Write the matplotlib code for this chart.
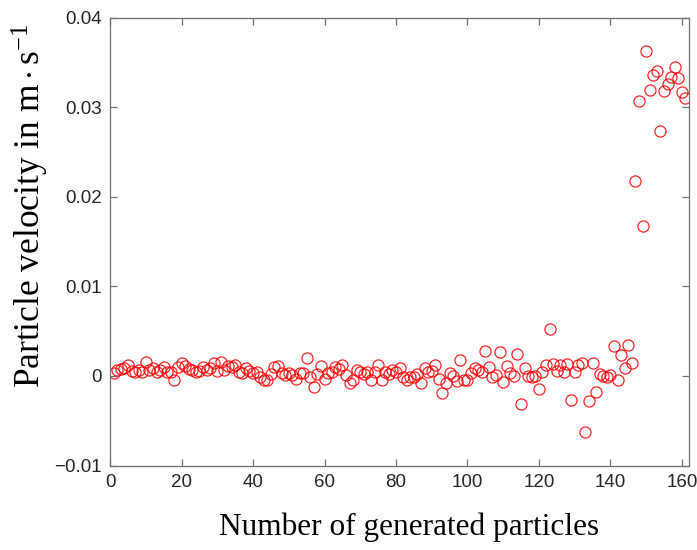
import matplotlib
matplotlib.use("Agg")
import matplotlib.pyplot as plt
import numpy as np

n_particles = np.arange(1, 162)
velocity = [
    0.0003, 0.0007, 0.0008, 0.0009, 0.0012, 0.0006, 0.0005, 0.0007, 0.0005, 0.0016,
    0.0007, 0.0009, 0.0004, 0.0007, 0.0010, 0.0004, 0.0004, -0.0005, 0.0010, 0.0015,
    0.0011, 0.0008, 0.0007, 0.0005, 0.0006, 0.0010, 0.0007, 0.0009, 0.0014, 0.0006,
    0.0016, 0.0007, 0.0011, 0.0010, 0.0012, 0.0005, 0.0003, 0.0009, 0.0006, 0.0003,
    0.0005, -0.0001, -0.0004, -0.0004, 0.0002, 0.0010, 0.0011, 0.0003, 0.0001, 0.0003,
    0.0001, -0.0003, 0.0003, 0.0003, 0.0020, -0.0001, -0.0012, 0.0002, 0.0011, -0.0003,
    0.0003, 0.0005, 0.0010, 0.0008, 0.0012, 0.0001, -0.0008, -0.0004, 0.0007, 0.0005,
    0.0002, 0.0005, -0.0004, 0.0004, 0.0012, -0.0004, 0.0005, 0.0002, 0.0007, 0.0004,
    0.0009, -0.0001, -0.0004, -0.0001, -0.0001, 0.0002, -0.0008, 0.0009, 0.0004, 0.0006,
    0.0012, -0.0003, -0.0019, -0.0008, 0.0003, 0.0000, -0.0006, 0.0018, -0.0004, -0.0004,
    0.0003, 0.0009, 0.0007, 0.0004, 0.0028, 0.0010, -0.0001, 0.0001, 0.0027, -0.0007,
    0.0011, 0.0003, 0.0000, 0.0025, -0.0031, 0.0009, 0.0000, -0.0001, 0.0000, -0.0015,
    0.0005, 0.0012, 0.0052, 0.0013, 0.0006, 0.0012, 0.0005, 0.0013, -0.0027, 0.0004,
    0.0012, 0.0014, -0.0063, -0.0028, 0.0014, -0.0018, 0.0002, 0.0000, -0.0001, 0.0001,
    0.0033, -0.0005, 0.0023, 0.0009, 0.0035, 0.0015, 0.0218, 0.0307, 0.0167, 0.0363,
    0.0319, 0.0336, 0.0340, 0.0273, 0.0318, 0.0326, 0.0334, 0.0345, 0.0333, 0.0317,
    0.0310,
]

x_ticks = [0, 20, 40, 60, 80, 100, 120, 140, 160]
y_ticks = [-0.01, 0, 0.01, 0.02, 0.03, 0.04]
y_ticklabels = ["\u22120.01", "0", "0.01", "0.02", "0.03", "0.04"]

plt.rcParams["mathtext.fontset"] = "custom"
plt.rcParams["mathtext.rm"] = "Liberation Serif"
plt.rcParams["mathtext.it"] = "Liberation Serif:italic"

fig = plt.figure(figsize=(6.97, 5.5), dpi=100)
ax = fig.add_axes([0.158, 0.1535, 0.8305, 0.8145])

ax.plot(n_particles, velocity, "o", mfc="none", mec="#ff0000",
        markersize=8, mew=0.9, alpha=0.85)

ax.set_xlim(0, 162)
ax.set_ylim(-0.01, 0.04)
ax.set_xticks(x_ticks)
ax.set_xticklabels([str(t) for t in x_ticks])
ax.set_yticks(y_ticks)
ax.set_yticklabels(y_ticklabels)

for s in ax.spines.values():
    s.set_color("#707070")
    s.set_linewidth(0.9)
ax.tick_params(direction="in", length=5, width=0.9, color="#707070",
               top=True, right=True, labelsize=13.5, labelcolor="#262626", pad=6)
for lab in ax.get_xticklabels() + ax.get_yticklabels():
    lab.set_family(["Liberation Sans", "DejaVu Sans"])

ax.set_xlabel("Number of generated particles", family="Liberation Serif",
              fontsize=22.5)
ax.xaxis.set_label_coords(0.517, -0.105, transform=ax.transAxes)
ax.xaxis.label.set_va("top")
ax.set_ylabel(r"Particle velocity in $\mathrm{m \cdot s^{-1}}$",
              family="Liberation Serif", fontsize=25.5)
ax.yaxis.set_label_coords(-0.103, 0.58, transform=ax.transAxes)

fig.savefig("out.png", dpi=100)
